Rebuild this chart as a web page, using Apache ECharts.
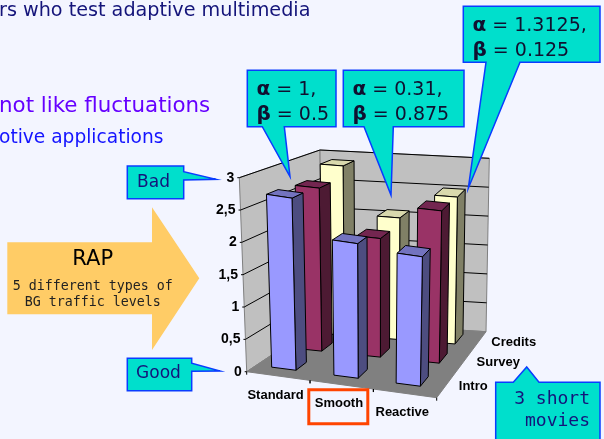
<!DOCTYPE html>
<html><head><meta charset="utf-8">
<style>html,body{margin:0;padding:0;background:#F3F5FF;overflow:hidden}#c{width:604px;height:439px}</style>
<script src="https://cdn.jsdelivr.net/npm/echarts@6/dist/echarts.min.js"></script>
</head><body><div id="c"></div>
<script>
const categories = ['Standard', 'Smooth', 'Reactive'];
const movies = ['Intro', 'Survey', 'Credits'];
const introValues = [2.72, 2.15, 2.09];
const surveyValues = [2.68, 1.96, 2.53];
const creditsValues = [2.88, 2.07, 2.5];
const yTicks = [0, 0.5, 1, 1.5, 2, 2.5, 3];
const yTickLabels = ['0', '0,5', '1', '1,5', '2', '2,5', '3'];

// layout of the 3D box: projected corners [u, v, h]
const C = {
  f0l: [246.7, 371.7], f0r: [436.7, 397.7], b0l: [321.7, 321.7], b0r: [486, 331.7],
  ftl: [239.3, 177.7], ftr: [441, 211], btl: [320, 150], btr: [489.3, 158.3]
};
const rowFront = [0.13, 0.49, 0.79], rowDepth = 0.15, uShift = -0.02, halfW = 0.065;
const rowLean = [0, 0.006, 0.022];
const lerp = (a, b, t) => [a[0] + (b[0] - a[0]) * t, a[1] + (b[1] - a[1]) * t];
function P(u, v, h) {
  const bot = lerp(lerp(C.f0l, C.f0r, u), lerp(C.b0l, C.b0r, u), v);
  const top = lerp(lerp(C.ftl, C.ftr, u), lerp(C.btl, C.btr, u), v);
  return lerp(bot, top, h);
}
const poly = (pts, fill, stroke, lw) => ({
  type: 'polygon', shape: { points: pts },
  style: { fill: fill, stroke: stroke || 'none', lineWidth: lw === undefined ? 1 : lw }, silent: true
});
const line = (a, b, stroke, lw) => ({
  type: 'line', shape: { x1: a[0], y1: a[1], x2: b[0], y2: b[1] },
  style: { stroke: stroke, lineWidth: lw || 1 }, silent: true
});
const label = (t, x, y, font, align) => ({
  type: 'text', silent: true,
  style: { text: t, x: x, y: y, font: font, fill: '#000', align: align || 'center', verticalAlign: 'middle' }
});
const norm = (api, params, x, y) => {
  const p = api.coord([x, y]), cs = params.coordSys;
  return [(p[0] - cs.x) / cs.width, (cs.y + cs.height - p[1]) / cs.height];
};

function barSeries(name, values, row, front, side, top) {
  return {
    type: 'custom', name: name, coordinateSystem: 'cartesian2d',
    data: values.map((v, i) => [i, v]),
    encode: { x: 0, y: 1 },
    renderItem(params, api) {
      const n = norm(api, params, api.value(0), api.value(1));
      const c = n[0] + uShift + rowLean[row] * (1 - n[0]) * (1 - n[0]);
      const u0 = c - halfW, u1 = c + halfW, h = n[1];
      const v0 = rowFront[row], v1 = v0 + rowDepth;
      return { type: 'group', children: [
        poly([P(u1, v0, 0), P(u1, v1, 0), P(u1, v1, h), P(u1, v0, h)], side, '#000', 1),
        poly([P(u0, v0, h), P(u1, v0, h), P(u1, v1, h), P(u0, v1, h)], top, '#000', 1),
        poly([P(u0, v0, 0), P(u1, v0, 0), P(u1, v0, h), P(u0, v0, h)], front, '#000', 1)
      ]};
    }
  };
}

const wallSeries = {
  type: 'custom', name: 'walls', coordinateSystem: 'cartesian2d', silent: true,
  data: [[0, 0]], encode: { x: 0, y: 1 },
  renderItem() {
    return { type: 'group', children: [
      poly([P(0,0,0), P(0,1,0), P(0,1,1), P(0,0,1)], '#C0C0C0', '#808080', 1),
      poly([P(0,1,0), P(1,1,0), P(1,1,1), P(0,1,1)], '#C0C0C0', '#808080', 1),
      poly([P(0,0,0), P(1,0,0), P(1,1,0), P(0,1,0)], '#808080', '#808080', 1)
    ]};
  }
};
const tickSeries = {
  type: 'custom', name: 'value ticks', coordinateSystem: 'cartesian2d', silent: true,
  data: yTicks.map((t, i) => [0, t, i]), encode: { x: 0, y: 1 },
  renderItem(params, api) {
    const h = norm(api, params, 0, api.value(1))[1];
    const a = P(0, 0, h), ch = [];
    if (h > 0) ch.push(line(a, P(0, 1, h), '#000', 1), line(P(0, 1, h), P(1, 1, h), '#000', 1));
    ch.push(line([a[0] - 2, a[1]], a, '#000', 1));
    ch.push(label(yTickLabels[api.value(2)], a[0] - 5, a[1], 'bold 14px "Liberation Sans"', 'right'));
    return { type: 'group', children: ch };
  }
};
const catLabelSeries = {
  type: 'custom', name: 'category labels', coordinateSystem: 'cartesian2d', silent: true,
  data: categories.map((c, i) => [i, 0]), encode: { x: 0, y: 1 },
  renderItem(params, api) {
    const u = norm(api, params, api.value(0), 0)[0];
    const a = P(u + uShift, 0, 0), ch = [];
    ch.push(label(categories[api.value(0)], a[0] + 1, a[1] + 19.5, 'bold 13px "Liberation Sans"'));
    const e = api.size([1, 0])[0] / params.coordSys.width;
    const t0 = P(u + e / 2, 0, 0), t1 = P(u - e / 2, 0, 0);
    ch.push(line(t0, [t0[0], t0[1] + 3], '#000', 1), line(t1, [t1[0], t1[1] + 3], '#000', 1));
    return { type: 'group', children: ch };
  }
};
const depthLabelSeries = {
  type: 'custom', name: 'movie labels', coordinateSystem: 'cartesian2d', silent: true,
  data: movies.map((m, i) => [0, 0, i]), encode: { x: 0, y: 1 },
  renderItem(params, api) {
    const i = api.value(2), a = P(1, rowFront[i] + rowDepth / 2, 0);
    return label(movies[i], a[0] + 12, a[1] + 2, 'bold 13px "Liberation Sans"', 'left');
  }
};

const CALL = { fill: '#00DFCC', stroke: '#0A3CFF', lineWidth: 1.5 };
const callout = pts => ({ type: 'polygon', z: 100, shape: { points: pts }, style: CALL, silent: true });
const txt = (t, x, y, font, fill, align, z) => ({
  type: 'text', z: z || 101, silent: true, x: x, y: y,
  style: { text: t, font: font, fill: fill, align: align || 'left', verticalAlign: 'middle',
    rich: { g: { font: 'bold 20px "DejaVu Sans"', fill: fill } } }
});
const SANS = '"DejaVu Sans"', MONO = '"DejaVu Sans Mono"';
const CT = '19px ' + SANS, INK = '#101030', NAVY = '#14147A';

const graphics = [
  txt('rs who test adaptive multimedia', -1, 11, '19.2px ' + SANS, NAVY),
  txt('not like fluctuations', -1, 106, '21.4px ' + SANS, '#6600FF'),
  txt('otive applications', -1, 138, '18.6px ' + SANS, '#1414FF'),
  callout([[247.3,70.3],[336,70.3],[336,126.7],[284.3,126.7],[290,176.7],[262.3,126.7],[247.3,126.7]]),
  callout([[343.3,70.3],[464,70.3],[464,126.7],[393.3,126.7],[391,195],[364,126.7],[343.3,126.7]]),
  callout([[463.3,6.3],[600,6.3],[600,62.3],[520,62.3],[468.3,188.3],[486,62.3],[463.3,62.3]]),
  txt('{g|α} = 1,', 256.5, 90, CT, INK), txt('{g|β} = 0.5', 256.5, 115, CT, INK),
  txt('{g|α} = 0.31,', 352.5, 90, CT, INK), txt('{g|β} = 0.875', 352.5, 115, CT, INK),
  txt('{g|α} = 1.3125,', 472.5, 26, CT, INK), txt('{g|β} = 0.125', 472.5, 51, CT, INK),
  callout([[127.3,166],[183.7,166],[183.7,171.7],[216,179.3],[183.7,180],[183.7,198.7],[127.3,198.7]]),
  txt('Bad', 153.5, 182.5, '17px ' + SANS, NAVY, 'center'),
  callout([[127.3,358.3],[191.7,358.3],[191.7,363.3],[220,371],[191.7,371.3],[191.7,390.7],[127.3,390.7]]),
  txt('Good', 158.5, 374, '17px ' + SANS, NAVY, 'center'),
  { type: 'polygon', z: 100, silent: true,
    shape: { points: [[7.3,242.3],[152,242.3],[152,207.3],[199.3,278.3],[152,350],[152,314.3],[7.3,314.3]] },
    style: { fill: '#FFCC66' } },
  txt('RAP', 92.7, 260, '21px ' + SANS, '#000', 'center'),
  txt('5 different types of', 92.7, 286.5, '13.3px ' + MONO, '#222', 'center'),
  txt('BG traffic levels', 92.7, 302.5, '13.3px ' + MONO, '#222', 'center'),
  { type: 'rect', z: 100, silent: true, shape: { x: 308.8, y: 389.8, width: 59, height: 34 },
    style: { fill: 'none', stroke: '#FF4400', lineWidth: 3 } },
  callout([[495.7,382.3],[513.3,382.3],[526.7,367],[539,382.3],[600,382.3],[600,441],[495.7,441]]),
  txt('3 short', 590, 399, '18px ' + MONO, NAVY, 'right'),
  txt('movies', 590, 421, '18px ' + MONO, NAVY, 'right')
];

const chart = echarts.init(document.getElementById('c'), null, { renderer: 'canvas' });
chart.setOption({
  animation: false,
  backgroundColor: '#F3F5FF',
  grid: { left: 247, top: 178, width: 190, height: 194 },
  xAxis: { type: 'category', data: categories, show: false },
  yAxis: { type: 'value', min: 0, max: 3, interval: 0.5, show: false },
  tooltip: { show: false },
  series: [
    wallSeries,
    tickSeries,
    catLabelSeries,
    depthLabelSeries,
    barSeries(movies[2], creditsValues, 2, '#FFFFCC', '#808066', '#D9D9AD'),
    barSeries(movies[1], surveyValues, 1, '#993366', '#4D1A33', '#732650'),
    barSeries(movies[0], introValues, 0, '#9999FF', '#4D4D80', '#7373BF')
  ],
  graphic: { elements: graphics }
});
</script></body></html>
